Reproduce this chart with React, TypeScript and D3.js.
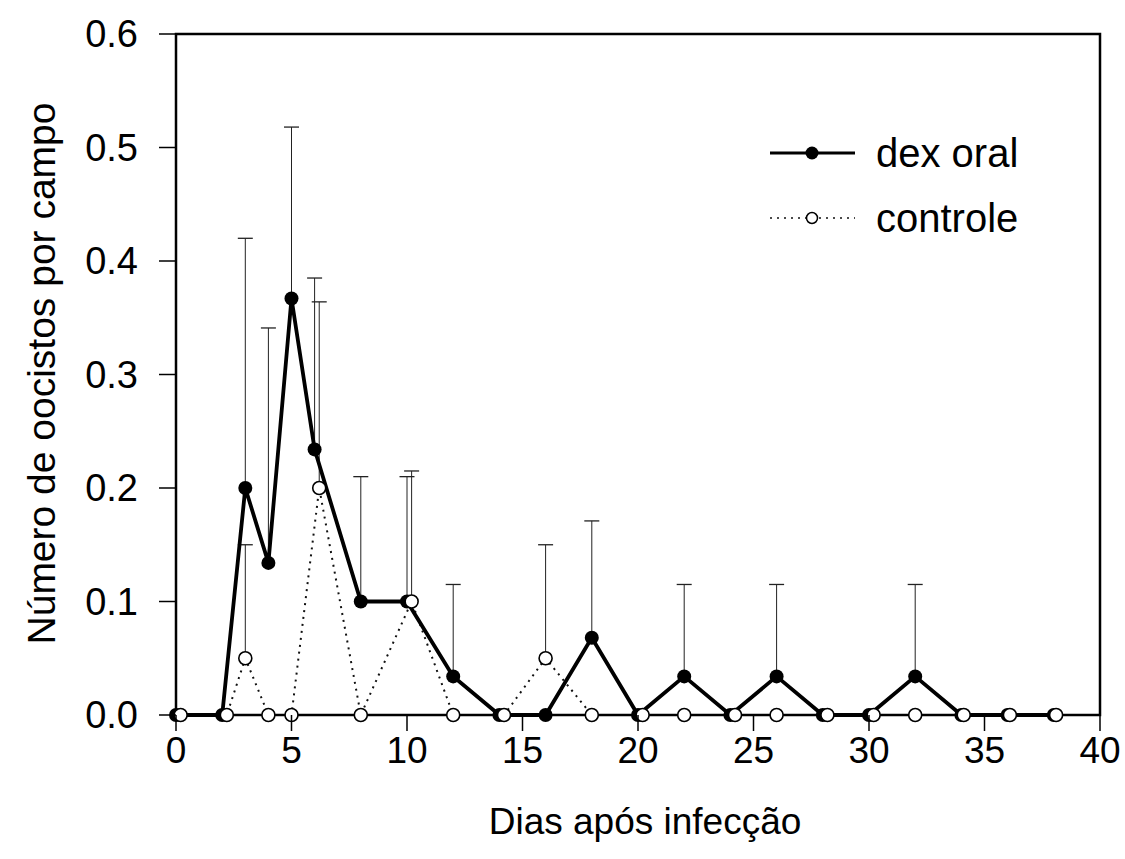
import React from "react";
import * as d3 from "d3";

const dexDays = [0, 2, 3, 4, 5, 6, 8, 10, 12, 14, 16, 18, 20, 22, 24, 26, 28, 30, 32, 34, 36, 38];
const dexMean = [0, 0, 0.2, 0.134, 0.367, 0.234, 0.1, 0.1, 0.034, 0, 0, 0.068, 0, 0.034, 0, 0.034, 0, 0, 0.034, 0, 0, 0];
const dexErr = [0, 0, 0.22, 0.207, 0.151, 0.151, 0.11, 0.11, 0.081, 0, 0, 0.103, 0, 0.081, 0, 0.081, 0, 0, 0.081, 0, 0, 0];

const ctrlDays = [0.2, 2.2, 3, 4, 5, 6.2, 8, 10.2, 12, 14.2, 16, 18, 20.2, 22, 24.2, 26, 28.2, 30.2, 32, 34.1, 36.1, 38.1];
const ctrlMean = [0, 0, 0.05, 0, 0, 0.2, 0, 0.1, 0, 0, 0.05, 0, 0, 0, 0, 0, 0, 0, 0, 0, 0, 0];
const ctrlErr = [0, 0, 0.1, 0, 0, 0.164, 0, 0.115, 0, 0, 0.1, 0, 0, 0, 0, 0, 0, 0, 0, 0, 0, 0];

const xTicks = [0, 5, 10, 15, 20, 25, 30, 35, 40];
const yTicks = [0, 0.1, 0.2, 0.3, 0.4, 0.5, 0.6];

const seriesNames = ["dex oral", "controle"];
const xTitle = "Dias após infecção";
const yTitle = "Número de oocistos por campo";

const FONT = "'Liberation Sans', Arial, Helvetica, sans-serif";

export default function App() {
  const x = d3.scaleLinear().domain([0, 40]).range([176, 1100]);
  const y = d3.scaleLinear().domain([0, 0.6]).range([715, 34]);

  const dexPts = dexDays.map((d, i) => ({ x: d, y: dexMean[i], e: dexErr[i] }));
  const ctrlPts = ctrlDays.map((d, i) => ({ x: d, y: ctrlMean[i], e: ctrlErr[i] }));

  const line = d3
    .line<{ x: number; y: number }>()
    .x((d) => x(d.x))
    .y((d) => y(d.y));

  const errBars = [...dexPts, ...ctrlPts].filter((p) => p.e > 0);

  const [x0, x1] = x.range();
  const [yb, yt] = y.range();

  return (
    <svg
      width={1125}
      height={859}
      style={{ position: "absolute", left: 0, top: 0, background: "#fff" }}
      fontFamily={FONT}
    >
      <rect x={0} y={0} width={1125} height={859} fill="#fff" />
      {/* error bars */}
      {errBars.map((p, i) => (
        <g key={"e" + i} stroke="#222" strokeWidth={1}>
          <line x1={x(p.x)} x2={x(p.x)} y1={y(p.y)} y2={y(p.y + p.e)} />
          <line x1={x(p.x) - 7.5} x2={x(p.x) + 7.5} y1={y(p.y + p.e)} y2={y(p.y + p.e)} strokeWidth={1.3} />
        </g>
      ))}
      {/* control dotted line */}
      <path d={line(ctrlPts) || ""} fill="none" stroke="#111" strokeWidth={2} strokeDasharray="2,5" />
      {/* dex solid line */}
      <path d={line(dexPts) || ""} fill="none" stroke="#000" strokeWidth={3.8} strokeLinejoin="miter" />
      {/* frame */}
      <rect x={x0} y={yt} width={x1 - x0} height={yb - yt} fill="none" stroke="#000" strokeWidth={2.5} />
      {/* dex markers */}
      {dexPts.map((p, i) => (
        <circle key={"d" + i} cx={x(p.x)} cy={y(p.y)} r={7} fill="#000" />
      ))}
      {/* control markers */}
      {ctrlPts.map((p, i) => (
        <circle key={"c" + i} cx={x(p.x)} cy={y(p.y)} r={6.5} fill="#fff" stroke="#000" strokeWidth={1.6} />
      ))}
      {/* x ticks */}
      {xTicks.map((t) => (
        <g key={"xt" + t}>
          <line x1={x(t)} x2={x(t)} y1={yb} y2={yb + 16} stroke="#000" strokeWidth={1.5} />
          <text x={x(t)} y={yb + 48} textAnchor="middle" fontSize={37} fill="#000">
            {t}
          </text>
        </g>
      ))}
      {/* y ticks */}
      {yTicks.map((t) => (
        <g key={"yt" + t}>
          <line x1={x0 - 17} x2={x0} y1={y(t)} y2={y(t)} stroke="#000" strokeWidth={1.5} />
          <text x={x0 - 38} y={y(t) + 13} textAnchor="end" fontSize={38} fill="#000">
            {d3.format(".1f")(t)}
          </text>
        </g>
      ))}
      {/* axis titles */}
      <text x={(x0 + x1) / 2 + 7} y={834} textAnchor="middle" fontSize={37} fill="#000">
        {xTitle}
      </text>
      <text
        transform={`translate(55, ${(yb + yt) / 2 - 1}) rotate(-90)`}
        textAnchor="middle"
        fontSize={39}
        fill="#000"
      >
        {yTitle}
      </text>
      {/* legend */}
      <g>
        <line x1={770} x2={855} y1={153} y2={153} stroke="#000" strokeWidth={3} />
        <circle cx={812} cy={153} r={6.5} fill="#000" />
        <text x={876} y={167} fontSize={40} fill="#000">
          {seriesNames[0]}
        </text>
        <line x1={770} x2={855} y1={218} y2={218} stroke="#111" strokeWidth={1.5} strokeDasharray="2,5" />
        <circle cx={812} cy={218} r={5.5} fill="#fff" stroke="#000" strokeWidth={1.5} />
        <text x={876} y={232} fontSize={40} fill="#000">
          {seriesNames[1]}
        </text>
      </g>
    </svg>
  );
}
